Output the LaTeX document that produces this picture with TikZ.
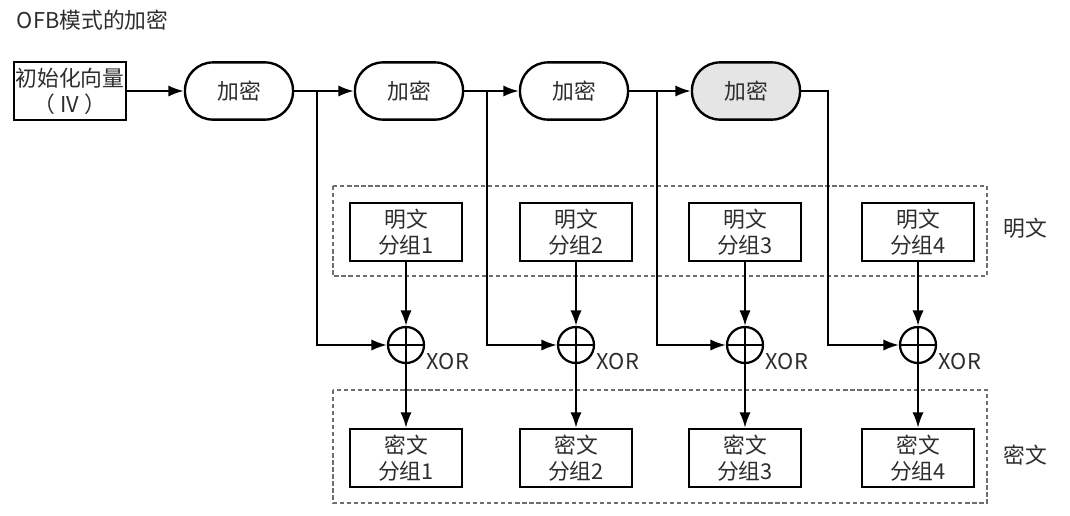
\documentclass[tikz,border=0pt]{standalone}
\usepackage{fontspec}
\setmainfont{Noto Sans CJK SC}
\usetikzlibrary{arrows.meta}

\definecolor{textcolor}{RGB}{45,45,45}
\definecolor{dashcolor}{RGB}{110,110,110}

\begin{document}
\begin{tikzpicture}[x=0.025cm, y=-0.025cm,
  font=\fontsize{15.5}{18.5}\selectfont, text=textcolor,
  blockbox/.style={draw=black, line width=1.7pt, minimum width=2.8cm, minimum height=1.45cm,
    align=center, inner sep=0pt},
  encbox/.style={blockbox, rounded corners=0.7cm, minimum width=2.7cm, minimum height=1.43cm},
  xorgate/.style={draw=black, circle, line width=1.6pt, minimum size=0.9cm, inner sep=0pt},
  flow/.style={line width=1.5pt, -{Latex[length=11pt,width=8pt]}},
  groupbox/.style={draw=dashcolor, line width=0.8pt, dash pattern=on 3pt off 2pt}]
  \useasboundingbox (0,0) rectangle (1070,515);

  % Title and initial vector
  \node[anchor=west] (title) at (12,20) {OFB模式的加密};
  \node[blockbox] (iv) at (70,91) {初始化向量\\（ IV ）};

  % Dashed groups for plaintext and ciphertext
  \draw[groupbox] (333,186) rectangle (987,276);
  \draw[groupbox] (333,390) rectangle (987,503);
  \node (ptlabel) at (1025,228) {明文};
  \node (ctlabel) at (1025,455) {密文};

  % One column per block
  \foreach \n/\ex/\px/\bx/\shade in {1/239/406/317/white, 2/409/576/487/white,
      3/574/745/657/white, 4/746/918/828/black!10} {
    \node[encbox, fill=\shade] (enc\n) at (\ex,91) {加密};
    \node[blockbox] (p\n) at (\px,232) {明文\\分组\n};
    \node[xorgate] (x\n) at (\px,345) {};
    \node[blockbox] (c\n) at (\px,458) {密文\\分组\n};
    \node[anchor=west, inner sep=1pt] (xl\n) at ([yshift=-0.42cm]x\n.east) {XOR};
    \coordinate (b\n) at (\bx,91);
    \draw[line width=1.6pt] (x\n.north) -- (x\n.south) (x\n.west) -- (x\n.east);
  }

  % Connections
  \draw[flow] (iv.east) -- (enc1.west);
  \foreach \n/\m in {1/2, 2/3, 3/4}
    \draw[flow] (enc\n.east) -- (enc\m.west);
  \foreach \n in {1,...,3}
    \draw[flow] (b\n) |- (x\n.west);
  \draw[flow] (enc4.east) -- (b4) |- (x4.west);
  \foreach \n in {1,...,4} {
    \draw[flow] (p\n.south) -- (x\n.north);
    \draw[flow] (x\n.south) -- (c\n.north);
  }
\end{tikzpicture}
\end{document}
